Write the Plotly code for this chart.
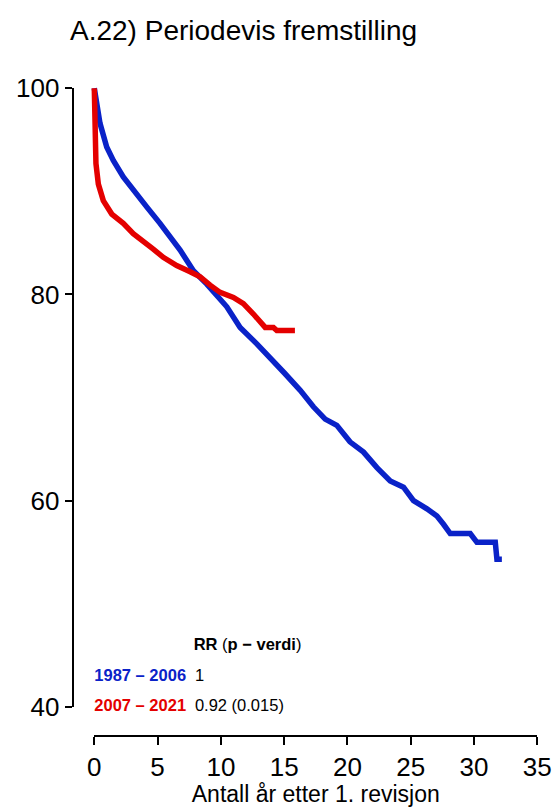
import plotly.graph_objects as go

# Survival curves (percent still without revision) by period of surgery
blue_x = [0, 0.19, 0.45, 0.98, 1.50, 2.29, 3.08, 4.14, 5.19, 5.98, 6.78, 7.83, 8.89,
          10.47, 11.52, 12.84, 13.89, 15.0, 16.27, 17.31, 18.24, 19.16, 20.2, 21.27,
          22.33, 23.38, 24.43, 25.22, 26.28, 27.07, 27.59, 28.12, 29.7, 29.96, 30.23,
          31.68, 31.81, 32.2]
blue_y = [100, 98.8, 96.6, 94.3, 93.0, 91.4, 90.1, 88.5, 86.9, 85.6, 84.3, 82.3, 81.0,
          78.8, 76.8, 75.2, 73.9, 72.4, 70.7, 69.1, 67.9, 67.3, 65.7, 64.7,
          63.2, 61.9, 61.3, 60.0, 59.2, 58.5, 57.7, 56.8, 56.8, 56.4, 55.95,
          55.95, 54.3, 54.3]

red_x = [0, 0.03, 0.06, 0.13, 0.32, 0.71, 1.38, 2.29, 3.08, 3.87, 4.66, 5.45, 6.51,
         7.57, 8.36, 9.15, 9.94, 10.99, 11.78, 12.57, 13.23, 13.5, 14.15, 14.42, 15.85]
red_y = [100, 98.5, 95.9, 92.7, 90.7, 89.1, 87.8, 86.9, 85.9, 85.2, 84.4, 83.6, 82.8,
         82.2, 81.7, 80.9, 80.2, 79.7, 79.1, 78.1, 77.3, 76.8, 76.8, 76.5, 76.5]

periods = ["1987 – 2006", "2007 – 2021"]
rr_values = ["1", "0.92 (0.015)"]

x_ticks = [0, 5, 10, 15, 20, 25, 30, 35]
y_ticks = [40, 60, 80, 100]

BLUE = "#0A22C8"
RED = "#E40000"
FONT = "Liberation Sans, Arial, Helvetica, sans-serif"

W, H = 557, 807
# pixel frame of the visible axes
X0_PX, X35_PX = 94.3, 537.3
Y100_PX, Y40_PX = 88.3, 706.7
YAXIS_PX = 72.7
XAXIS_PX = 736.0

sx = (X35_PX - X0_PX) / 35.0
sy = (Y40_PX - Y100_PX) / 60.0

# full-page data axes sharing the same scale as the visible axes
x_lo = 0 - X0_PX / sx
x_hi = 35 + (W - X35_PX) / sx
y_hi = 100 + Y100_PX / sy
y_lo = 40 - (H - Y40_PX) / sy

fig = go.Figure()
fig.add_trace(go.Scatter(x=blue_x, y=blue_y, mode="lines",
                         line=dict(color=BLUE, width=5.5), showlegend=False,
                         hoverinfo="skip"))
fig.add_trace(go.Scatter(x=red_x, y=red_y, mode="lines",
                         line=dict(color=RED, width=5.5), showlegend=False,
                         hoverinfo="skip"))

# legend block with relative risk
leg_x = [0, 0, 7.85, 7.95, 7.95]
leg_y = [42.88, 40.0, 45.89, 42.88, 40.0]
leg_text = ["<b>" + periods[0] + "</b>", "<b>" + periods[1] + "</b>",
            "<b>RR</b> (<b>p − verdi</b>)", rr_values[0], rr_values[1]]
leg_col = [BLUE, RED, "black", "black", "black"]
fig.add_trace(go.Scatter(x=leg_x, y=leg_y, mode="text", text=leg_text,
                         textposition="middle right",
                         textfont=dict(family=FONT, size=16.5, color=leg_col),
                         cliponaxis=False, showlegend=False, hoverinfo="skip",
                         xaxis="x2", yaxis="y2"))

axis_common = dict(showgrid=False, zeroline=False, fixedrange=True)

fig.update_layout(
    width=W, height=H, autosize=False,
    margin=dict(l=0, r=0, t=0, b=0, pad=0, autoexpand=False),
    paper_bgcolor="white",
    plot_bgcolor="rgba(0,0,0,0)",
    font=dict(family=FONT, color="black"),
    title=dict(text="A.22) Periodevis fremstilling", x=70 / W, xanchor="left",
               xref="paper", y=1 - 30 / H, yanchor="middle", yref="paper",
               font=dict(family=FONT, size=28, color="black")),
    xaxis=dict(domain=[0, 1], range=[x_lo, x_hi], visible=False, **axis_common),
    yaxis=dict(domain=[0, 1], range=[y_lo, y_hi], visible=False, **axis_common),
    xaxis2=dict(domain=[X0_PX / W, X35_PX / W], range=[0, 35], anchor="free",
                position=1 - XAXIS_PX / H, side="bottom",
                showline=True, linecolor="black", linewidth=2,
                ticks="outside", ticklen=8, tickwidth=2, tickcolor="black",
                tickvals=x_ticks, ticktext=[str(v) for v in x_ticks],
                tickfont=dict(family=FONT, size=26, color="black"),
                title=dict(text="Antall år etter 1. revisjon",
                           font=dict(family=FONT, size=23, color="black"),
                           standoff=2),
                **axis_common),
    yaxis2=dict(domain=[1 - Y40_PX / H, 1 - Y100_PX / H], range=[40, 100],
                anchor="free", position=YAXIS_PX / W, side="left",
                showline=True, linecolor="black", linewidth=2,
                ticks="outside", ticklen=7, tickwidth=2, tickcolor="black",
                tickvals=y_ticks, ticktext=[str(v) for v in y_ticks],
                tickfont=dict(family=FONT, size=26, color="black"),
                **axis_common),
)

fig.write_html("out.html")
